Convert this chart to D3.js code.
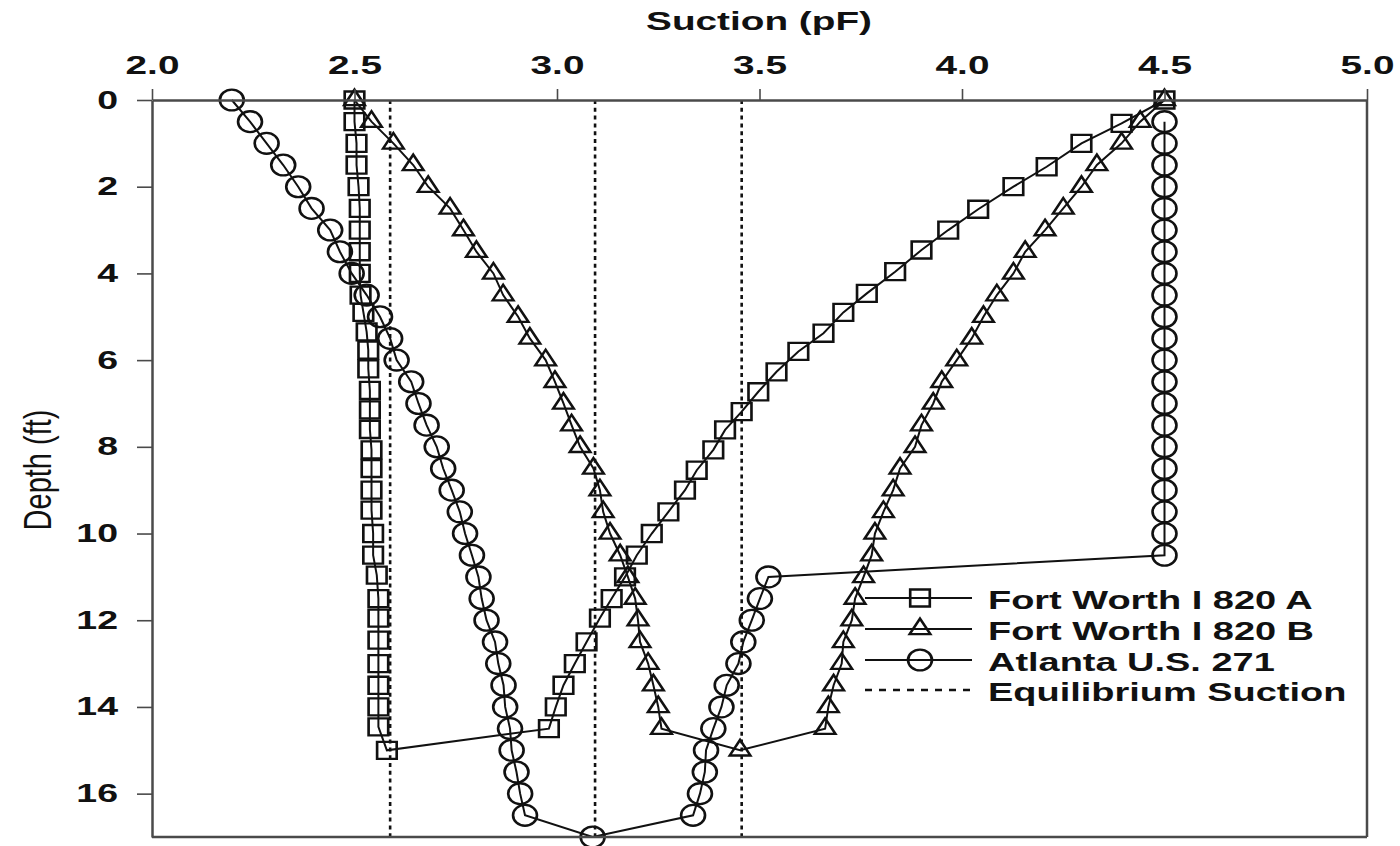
<!DOCTYPE html>
<html>
<head>
<meta charset="utf-8">
<script src="https://cdn.jsdelivr.net/npm/d3@7"></script>
<style>
  body { margin: 0; background: #fff; }
  svg text { font-family: "Liberation Sans", Arial, Helvetica, sans-serif; fill: #111; }
</style>
</head>
<body>
<div id="chart"></div>
<script>
// axis ticks
var suctionTicks = [2.0, 2.5, 3.0, 3.5, 4.0, 4.5, 5.0];
var depthTicks = [0, 2, 4, 6, 8, 10, 12, 14, 16];

// Fort Worth I 820 A (squares): down the left branch, then back up the right one
var fwA_depth = [0, 0.5, 1, 1.5, 2, 2.5, 3, 3.5, 4, 4.5, 4.9, 5.35, 5.77, 6.2, 6.7, 7.15, 7.6, 8.07, 8.5, 9, 9.46, 10, 10.5, 10.96, 11.5, 11.95, 12.46, 13, 13.5, 14, 14.46, 15,
                 14.5, 14, 13.5, 13, 12.5, 11.95, 11.5, 11, 10.5, 10, 9.5, 9, 8.54, 8.07, 7.61, 7.19, 6.73, 6.27, 5.8, 5.38, 4.9, 4.46, 3.96, 3.46, 3, 2.52, 2, 1.54, 1, 0.54, 0];
var fwA_suction = [2.50, 2.50, 2.505, 2.505, 2.51, 2.513, 2.513, 2.513, 2.513, 2.515, 2.522, 2.53, 2.534, 2.534, 2.538, 2.538, 2.538, 2.542, 2.542, 2.542, 2.542, 2.546, 2.546, 2.555, 2.559, 2.559, 2.559, 2.559, 2.559, 2.559, 2.559, 2.58,
                   2.98, 2.997, 3.016, 3.044, 3.073, 3.106, 3.135, 3.168, 3.197, 3.234, 3.275, 3.316, 3.345, 3.386, 3.415, 3.456, 3.497, 3.542, 3.596, 3.658, 3.707, 3.765, 3.835, 3.90, 3.966, 4.04, 4.127, 4.209, 4.295, 4.394, 4.5];

// Fort Worth I 820 B (triangles)
var fwB_depth = [0, 0.5, 1, 1.5, 2, 2.5, 3, 3.5, 4, 4.5, 5, 5.5, 6, 6.5, 7, 7.5, 8, 8.5, 9, 9.5, 10, 10.5, 11, 11.5, 12, 12.5, 13, 13.5, 14, 14.5, 15,
                 14.5, 14, 13.5, 13, 12.5, 12, 11.5, 11, 10.5, 10, 9.5, 9, 8.5, 8, 7.5, 7, 6.5, 6, 5.5, 5, 4.5, 4, 3.5, 3, 2.5, 2, 1.5, 1, 0.5, 0];
var fwB_suction = [2.50, 2.542, 2.596, 2.645, 2.682, 2.736, 2.769, 2.801, 2.843, 2.867, 2.904, 2.933, 2.972, 2.995, 3.016, 3.036, 3.057, 3.09, 3.106, 3.114, 3.131, 3.156, 3.175, 3.193, 3.20, 3.205, 3.225, 3.238, 3.25, 3.258, 3.452,
                   3.662, 3.67, 3.683, 3.703, 3.707, 3.728, 3.736, 3.757, 3.777, 3.785, 3.806, 3.83, 3.847, 3.884, 3.90, 3.929, 3.95, 3.987, 4.024, 4.053, 4.086, 4.127, 4.156, 4.205, 4.25, 4.295, 4.333, 4.394, 4.44, 4.5];

// Atlanta U.S. 271 (circles)
var atl_depth = [0, 0.5, 1, 1.5, 2, 2.5, 3, 3.5, 4, 4.5, 5, 5.5, 6, 6.5, 7, 7.5, 8, 8.5, 9, 9.5, 10, 10.5, 11, 11.5, 12, 12.5, 13, 13.5, 14, 14.5, 15, 15.5, 16, 16.5, 17,
                 16.5, 16, 15.5, 15, 14.5, 14, 13.5, 13, 12.5, 12, 11.5, 11,
                 10.5, 10, 9.5, 9, 8.5, 8, 7.5, 7, 6.5, 6, 5.5, 5, 4.5, 4, 3.5, 3, 2.5, 2, 1.5, 1, 0.5];
var atl_suction = [2.197, 2.242, 2.283, 2.324, 2.361, 2.394, 2.44, 2.464, 2.493, 2.53, 2.563, 2.588, 2.604, 2.64, 2.658, 2.678, 2.703, 2.719, 2.74, 2.76, 2.773, 2.79, 2.806, 2.814, 2.826, 2.847, 2.855, 2.868, 2.872, 2.884, 2.888, 2.90, 2.909, 2.921, 3.088,
                   3.336, 3.353, 3.365, 3.368, 3.386, 3.406, 3.419, 3.448, 3.46, 3.481, 3.501, 3.522,
                   4.5, 4.5, 4.5, 4.5, 4.5, 4.5, 4.5, 4.5, 4.5, 4.5, 4.5, 4.5, 4.5, 4.5, 4.5, 4.5, 4.5, 4.5, 4.5, 4.5, 4.5];

// equilibrium suction lines
var equilibrium = [2.588, 3.094, 3.456];

var legendNames = ["Fort Worth I 820 A", "Fort Worth I 820 B", "Atlanta U.S. 271", "Equilibrium Suction"];

var ink = "#111";
var axisCol = "#4a4a4a";

var svg = d3.select("#chart")
  .append("svg")
  .attr("width", 1400)
  .attr("height", 846);

var x = d3.scaleLinear().domain([2, 5]).range([152, 1367]);
var y = d3.scaleLinear().domain([0, 17]).range([100, 837]);

// equilibrium lines
svg.selectAll(".eq")
  .data(equilibrium)
  .enter().append("line")
  .attr("class", "eq")
  .attr("x1", function(d) { return x(d); })
  .attr("x2", function(d) { return x(d); })
  .attr("y1", y(0))
  .attr("y2", y(17))
  .attr("stroke", ink)
  .attr("stroke-width", 2.6)
  .attr("stroke-dasharray", "4,3.8");

var series = [
  {depth: fwA_depth, suction: fwA_suction, type: d3.symbolSquare, size: 290},
  {depth: fwB_depth, suction: fwB_suction, type: d3.symbolTriangle, size: 140},
  {depth: atl_depth, suction: atl_suction, type: d3.symbolCircle, size: 340}
];

var line = d3.line()
  .x(function(p) { return x(p[0]); })
  .y(function(p) { return y(p[1]); });

series.forEach(function(s) {
  var pts = s.depth.map(function(d, i) { return [s.suction[i], d]; });

  svg.append("path")
    .datum(pts)
    .attr("d", line)
    .attr("fill", "none")
    .attr("stroke", ink)
    .attr("stroke-width", 2);

  svg.append("g").selectAll("path")
    .data(pts)
    .enter().append("path")
    .attr("transform", function(p) { return "translate(" + x(p[0]) + "," + y(p[1]) + ") scale(1.15,1)"; })
    .attr("d", d3.symbol().type(s.type).size(s.size))
    .attr("fill", "none")
    .attr("stroke", ink)
    .attr("stroke-width", 2.3);
});

// axes
var xAxis = svg.append("g")
  .attr("transform", "translate(0," + y(0) + ")")
  .call(d3.axisTop(x).tickValues(suctionTicks).tickFormat(d3.format(".1f"))
        .tickSize(11).tickSizeOuter(0).tickPadding(15));

var yAxis = svg.append("g")
  .attr("transform", "translate(" + x(2) + ",0)")
  .call(d3.axisLeft(y).tickValues(depthTicks).tickSize(15).tickSizeOuter(0));

[xAxis, yAxis].forEach(function(a) {
  a.select(".domain").attr("stroke", axisCol).attr("stroke-width", 2.5);
  a.selectAll(".tick line").attr("stroke", axisCol).attr("stroke-width", 1.6);
  a.selectAll("text")
    .attr("font-family", "Liberation Sans, Arial, sans-serif")
    .attr("font-weight", "700")
    .attr("font-size", "25px")
    .attr("fill", ink);
});
xAxis.selectAll("text").attr("transform", "scale(1.55,1)");
yAxis.selectAll("text").attr("x", -34 / 1.5).attr("transform", "scale(1.5,1)");

// frame right and bottom
svg.append("line")
  .attr("x1", x(5)).attr("x2", x(5)).attr("y1", y(0)).attr("y2", y(17))
  .attr("stroke", axisCol).attr("stroke-width", 2.5);
svg.append("line")
  .attr("x1", x(2)).attr("x2", x(5)).attr("y1", y(17)).attr("y2", y(17))
  .attr("stroke", axisCol).attr("stroke-width", 2.5);

// titles
svg.append("text")
  .attr("transform", "translate(759,30) scale(1.55,1)")
  .attr("text-anchor", "middle")
  .attr("font-weight", "700")
  .attr("font-size", "25px")
  .text("Suction (pF)");

svg.append("text")
  .attr("transform", "translate(37,470) scale(1.35,1) rotate(-90)")
  .attr("text-anchor", "middle")
  .attr("dy", "0.35em")
  .attr("font-weight", "400")
  .attr("font-size", "29px")
  .text("Depth (ft)");

// legend
var legY = [598, 629, 660, 690];
var legTypes = [d3.symbolSquare, d3.symbolTriangle, d3.symbolCircle];
var legSizes = [290, 140, 340];

legendNames.forEach(function(name, i) {
  var ly = legY[i];
  var l = svg.append("line")
    .attr("x1", 865).attr("x2", 972)
    .attr("y1", ly).attr("y2", ly)
    .attr("stroke", ink)
    .attr("stroke-width", i < 3 ? 2 : 2.4);
  if (i == 3) {
    l.attr("stroke-dasharray", "7,7");
  } else {
    svg.append("path")
      .attr("transform", "translate(920," + ly + ") scale(1.15,1)")
      .attr("d", d3.symbol().type(legTypes[i]).size(legSizes[i]))
      .attr("fill", "none")
      .attr("stroke", ink)
      .attr("stroke-width", 2.3);
  }
  svg.append("text")
    .attr("transform", "translate(988," + (ly + 11) + ") scale(1.46,1)")
    .attr("font-weight", "700")
    .attr("font-size", "26px")
    .text(name);
});
</script>
</body>
</html>
